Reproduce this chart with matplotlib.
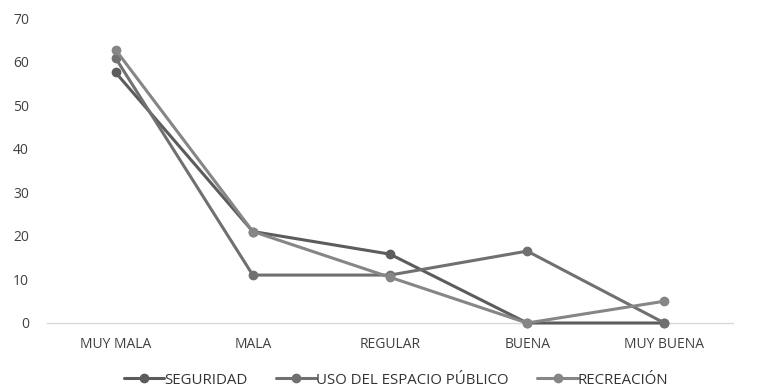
import matplotlib
matplotlib.use('Agg')
import matplotlib.pyplot as plt

categorias = ['MUY MALA', 'MALA', 'REGULAR', 'BUENA', 'MUY BUENA']
seguridad = [57.5, 21.0, 15.8, 0.0, 0.0]
uso_espacio = [60.8, 11.0, 11.0, 16.5, 0.0]
recreacion = [62.7, 21.0, 10.5, 0.0, 5.0]

series = [
    ('SEGURIDAD', seguridad, '#5c5c5c'),
    ('USO DEL ESPACIO PÚBLICO', uso_espacio, '#707070'),
    ('RECREACIÓN', recreacion, '#868686'),
]

plt.rcParams['font.family'] = ['Open Sans', 'DejaVu Sans']

fig = plt.figure(figsize=(7.66, 3.91), dpi=100)
ax = fig.add_axes([47 / 766, 68 / 391, 686 / 766, 305 / 391])

x = list(range(len(categorias)))
for nombre, vals, col in series:
    ax.plot(x, vals, color=col, linewidth=2.2, marker='o', markersize=6,
            label=nombre, solid_capstyle='round', clip_on=False, zorder=3)

ax.set_xlim(-0.5, len(categorias) - 0.5)
ax.set_ylim(0, 70)
ax.set_yticks(range(0, 71, 10))
ax.set_xticks(x)
ax.set_xticklabels(categorias)
ax.tick_params(axis='both', length=0, labelsize=10, colors='#404040')
ax.tick_params(axis='y', pad=13)
ax.tick_params(axis='x', pad=10)

for s in ['top', 'right', 'left']:
    ax.spines[s].set_visible(False)
ax.spines['bottom'].set_color('#d9d9d9')
ax.spines['bottom'].set_linewidth(1.0)
ax.spines['bottom'].set_position(('data', 0))
ax.spines['bottom'].set_zorder(1)

fig.legend(loc='center', bbox_to_anchor=(396 / 766, 11 / 391), ncol=3,
           frameon=False, fontsize=10.8, handlelength=2.7, handletextpad=0.0,
           columnspacing=1.9, labelcolor='#333333')

fig.savefig('out.png', dpi=100)
